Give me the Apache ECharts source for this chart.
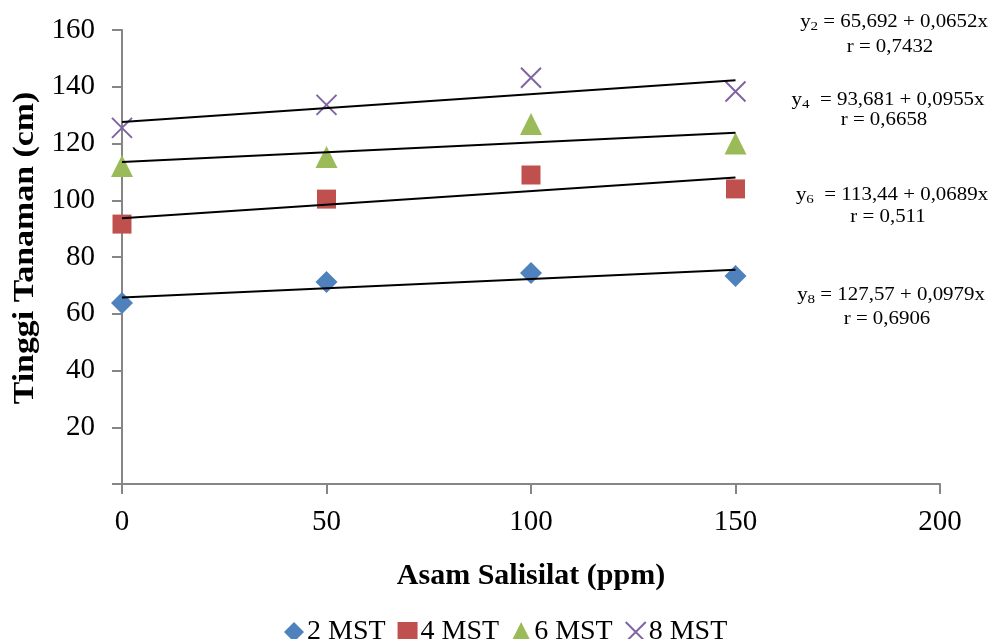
<!DOCTYPE html>
<html>
<head>
<meta charset="utf-8">
<script src="https://cdn.jsdelivr.net/npm/echarts@6/dist/echarts.min.js"></script>
<style>
  html, body { margin: 0; padding: 0; background: #fff; }
  #chart { width: 996px; height: 639px; }
</style>
</head>
<body>
<div id="chart"></div>
<script>
// Salicylic acid dose (ppm) and plant height (cm) per observation week
const doses = [0, 50, 100, 150];
const seriesNames = ['2 MST', '4 MST', '6 MST', '8 MST'];
const height2 = [63.8, 71.2, 74.4, 73.3];
const height4 = [91.6, 100.4, 108.9, 104.0];
const height6 = [112.1, 115.2, 126.9, 120.0];
const height8 = [125.5, 133.6, 143.2, 138.3];

// Linear regression lines: y = a + b x
const eqLabels = ['2', '4', '6', '8'];
const intercepts = [65.692, 93.681, 113.44, 127.57];
const slopes = [0.0652, 0.0955, 0.0689, 0.0979];
const interceptText = ['65,692', '93,681', '113,44', '127,57'];
const slopeText = ['0,0652', '0,0955', '0,0689', '0,0979'];
const rText = ['0,7432', '0,6658', '0,511', '0,6906'];
const trendRange = [0, 150];

const xTicks = [0, 50, 100, 150, 200];
const yTicks = [0, 20, 40, 60, 80, 100, 120, 140, 160];

const xTitle = 'Asam Salisilat (ppm)';
const yTitle = 'Tinggi Tanaman (cm)';

const colors = ['#4F81BD', '#C0504D', '#9BBB59', '#8064A2'];
const serif = '"Liberation Serif", "Times New Roman", serif';
const axisGrey = '#868686';

const heights = [height2, height4, height6, height8];
const symbols = ['diamond', 'rect', 'triangle', 'path://M0,0L20,20M20,0L0,20'];
const symbolSizes = [22, 19, 22, 20];

const scatterSeries = heights.map((vals, i) => ({
  name: seriesNames[i],
  type: 'scatter',
  data: doses.map((d, j) => [d, vals[j]]),
  symbol: symbols[i],
  symbolSize: symbolSizes[i],
  itemStyle: i === 3
    ? { color: 'rgba(0,0,0,0)', borderColor: colors[i], borderWidth: 2, opacity: 1 }
    : { color: colors[i], opacity: 1 },
  emphasis: { disabled: true },
  z: 3
}));

const trendSeries = intercepts.map((a, i) => ({
  name: 'trend' + eqLabels[i],
  type: 'line',
  data: trendRange.map(x => [x, a + slopes[i] * x]),
  showSymbol: false,
  symbol: 'none',
  lineStyle: { color: '#000', width: 2 },
  silent: true,
  z: 4
}));

// Equation blocks on the right-hand side (text set slightly wide)
const eqStretch = 1.16;
const eqCenters = [[894, 22, 47], [888, 100, 120], [892, 195, 217], [891, 295, 319]];
const graphics = [];
eqCenters.forEach((c, i) => {
  const gap = (i === 1 || i === 2) ? '  =' : ' =';
  graphics.push({
    type: 'text',
    x: c[0], y: c[1],
    scaleX: eqStretch,
    style: {
      text: '{m|y}{s|' + eqLabels[i] + '}{m|' + gap + ' ' + interceptText[i] + ' + ' + slopeText[i] + 'x}',
      align: 'center', verticalAlign: 'middle',
      rich: {
        m: { fontFamily: serif, fontSize: 18, lineHeight: 22, fill: '#000' },
        s: { fontFamily: serif, fontSize: 13, lineHeight: 14, verticalAlign: 'bottom', fill: '#000' }
      }
    }
  });
  graphics.push({
    type: 'text',
    x: c[0] - 4, y: c[2],
    scaleX: eqStretch,
    style: {
      text: 'r = ' + rText[i],
      align: 'center', verticalAlign: 'middle',
      font: '18px ' + serif, fill: '#000'
    }
  });
});

// Vertical axis title
graphics.push({
  type: 'text',
  x: 25, y: 248,
  rotation: Math.PI / 2,
  scaleX: 1.13,
  style: {
    text: yTitle,
    align: 'center', verticalAlign: 'middle',
    font: 'bold 30px ' + serif, fill: '#000'
  }
});

const chart = echarts.init(document.getElementById('chart'), null, { renderer: 'canvas' });
chart.setOption({
  backgroundColor: '#fff',
  animation: false,
  grid: { left: 122, right: 56, top: 30, bottom: 155 },
  xAxis: {
    type: 'value',
    min: xTicks[0], max: xTicks[xTicks.length - 1], interval: xTicks[1] - xTicks[0],
    name: xTitle,
    nameLocation: 'middle', nameGap: 77,
    nameTextStyle: { fontFamily: serif, fontSize: 30, fontWeight: 'bold', color: '#000' },
    axisLine: { show: true, lineStyle: { color: axisGrey, width: 2 } },
    axisTick: { show: true, length: 10, lineStyle: { color: axisGrey, width: 2 } },
    axisLabel: { margin: 24, fontFamily: serif, fontSize: 29, color: '#000' },
    splitLine: { show: false }
  },
  yAxis: {
    type: 'value',
    min: yTicks[0], max: yTicks[yTicks.length - 1], interval: yTicks[1] - yTicks[0],
    axisLine: { show: true, lineStyle: { color: axisGrey, width: 2 } },
    axisTick: { show: true, length: 10, lineStyle: { color: axisGrey, width: 2 } },
    axisLabel: {
      margin: 27, fontFamily: serif, fontSize: 29, color: '#000',
      formatter: v => (v === 0 ? '' : String(v))
    },
    splitLine: { show: false }
  },
  legend: {
    data: seriesNames,
    left: 279, top: 613,
    itemWidth: 20, itemHeight: 20, itemGap: 12,
    textStyle: { fontFamily: serif, fontSize: 28, color: '#000', lineHeight: 28, padding: [0, 0, 0, -2] },
    selectedMode: false
  },
  graphic: graphics,
  series: scatterSeries.concat(trendSeries)
});
</script>
</body>
</html>
